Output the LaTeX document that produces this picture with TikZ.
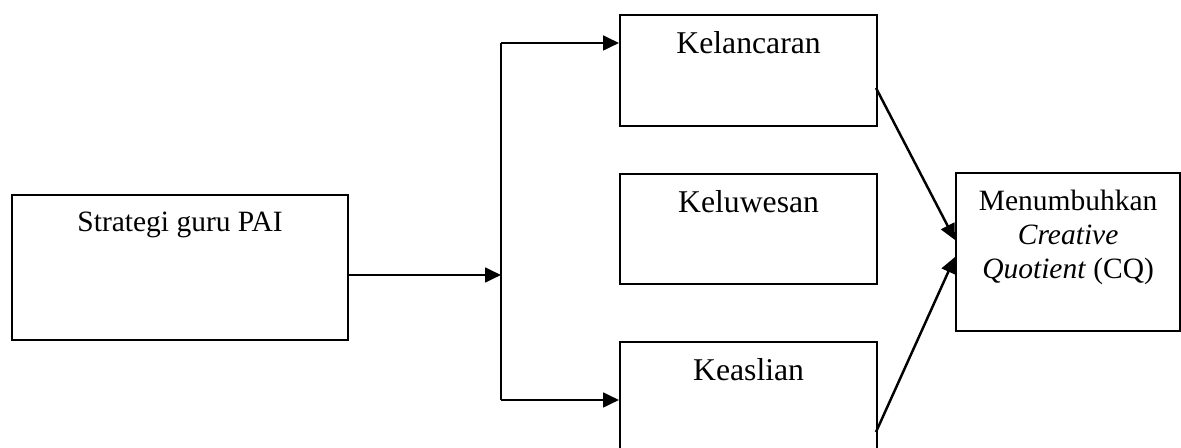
\documentclass[tikz,border=0pt]{standalone}
\usepackage{fontspec}
\setmainfont{Liberation Serif}
\usetikzlibrary{arrows.meta,calc}
\begin{document}
\begin{tikzpicture}[x=0.407pt,y=-0.407pt,
  box/.style={draw,line width=0.9pt,inner sep=0pt,anchor=north west},
  lbl/.style={anchor=base,inner sep=0pt,font=\fontsize{12}{14}\selectfont,align=center},
  biglbl/.style={lbl,font=\fontsize{12.9}{15}\selectfont},
  conn/.style={line width=1pt},
  arr/.style={conn,-{Triangle[length=6.5pt,width=6pt]}}]
\useasboundingbox (0,0) rectangle (1181,448);
% boxes
\node[box,minimum width=136.75pt,minimum height=59pt] (S) at (11,194) {};
\node[box,minimum width=104.6pt,minimum height=45.2pt] (K1) at (619,14) {};
\node[box,minimum width=104.6pt,minimum height=44.8pt] (K2) at (619,173) {};
\node[box,minimum width=104.6pt,minimum height=48.8pt] (K3) at (619,341) {};
\node[box,minimum width=91.2pt,minimum height=64.3pt] (CQ) at (955,172) {};
% labels
\node[lbl] (tS) at ($(S.north)+(0,38)$) {Strategi guru PAI};
\node[biglbl] (tK1) at ($(K1.north)+(0,40)$) {Kelancaran};
\node[biglbl] (tK2) at ($(K2.north)+(0,40)$) {Keluwesan};
\node[biglbl] (tK3) at ($(K3.north)+(0,40)$) {Keaslian};
\node[lbl] (tCQ) at ($(CQ.north)+(0,107)$) {Menumbuhkan\\\textit{Creative}\\\textit{Quotient} (CQ)};
% junction coordinates
\coordinate (j) at (501,275);
\coordinate (jt) at (501,43);
\coordinate (jb) at (501,400);
\coordinate (a1) at (876,88);
\coordinate (a3) at (876,432);
\coordinate (e1) at (955,240);
\coordinate (e3) at (955,257);
% connectors
\draw[arr] (j -| S.east) -- (j);
\draw[conn] (jt) -- (jb);
\draw[arr] (jt) -- (jt -| K1.west);
\draw[arr] (jb) -- (jb -| K3.west);
\draw[arr] (a1) -- (e1 -| CQ.west);
\draw[arr] (a3) -- (e3 -| CQ.west);
\end{tikzpicture}
\end{document}
